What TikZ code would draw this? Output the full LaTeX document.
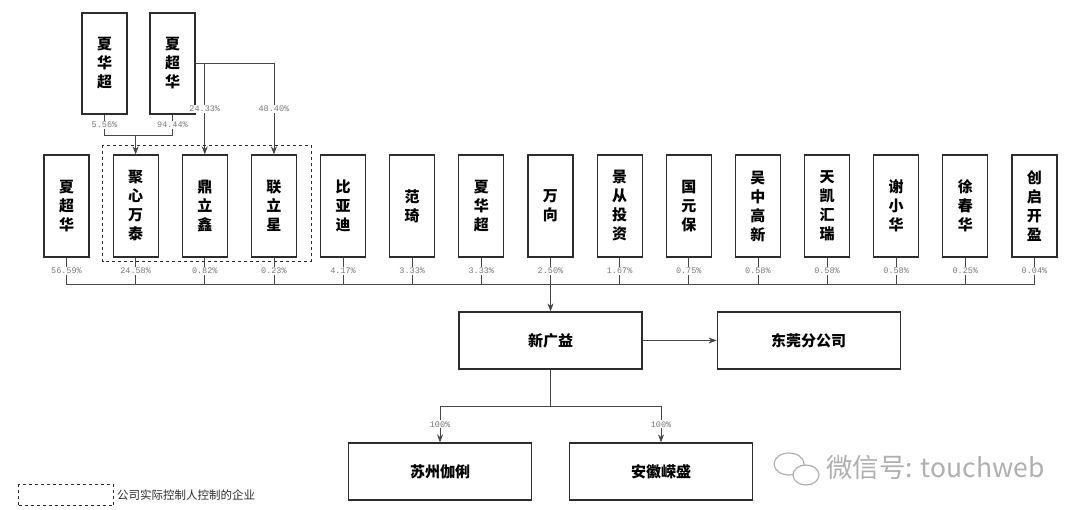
\documentclass[tikz,border=0pt]{standalone}
\usepackage{fontspec}
\usepackage{xcolor}
\usepackage{tikz}
\setmainfont{Liberation Serif}
\setmonofont{Liberation Mono}
\newfontfamily\cjk{Noto Sans CJK SC}
\definecolor{boxline}{RGB}{45, 45, 45}
\definecolor{linegray}{RGB}{70, 70, 70}
\definecolor{pctgray}{RGB}{120, 120, 120}
\definecolor{markgray}{RGB}{175, 175, 175}
\usetikzlibrary{arrows.meta, positioning}

\begin{document}
\begin{tikzpicture}[
        x=1pt, y=-1pt,
        every node/.style={inner sep=0pt},
        holder/.style={rectangle, draw=boxline, line width=1.2pt, minimum width=45pt, minimum height=102pt, align=center, font=\cjk\bfseries\fontsize{15}{19}\selectfont},
        firm/.style={rectangle, draw=boxline, line width=1.2pt, minimum width=183pt, minimum height=57pt, font=\cjk\bfseries\fontsize{15}{18}\selectfont},
        pct/.style={fill=white, inner sep=1pt, text=pctgray, font=\ttfamily\fontsize{8.5}{9}\selectfont},
        link/.style={draw=linegray, line width=0.7pt},
        arrow/.style={link, -{Stealth[length=8pt, width=6pt]}}
    ]
        \useasboundingbox (0,0) rectangle (1080,510);

        % Top holders
        \node[holder, minimum height=101pt] (xhcTop) at (104.5,63.5) {夏\\华\\超};
        \node[holder, minimum height=101pt] (xchTop) at (172.5,63.5) {夏\\超\\华};

        % Shareholders
        \foreach \name/\txt/\p [count=\i from 0] in {
            xiachaohua/{夏\\超\\华}/56.59, juxin/{聚\\心\\万\\泰}/24.58,
            dinglixin/{鼎\\立\\鑫}/0.82, lianlixing/{联\\立\\星}/0.23,
            byd/{比\\亚\\迪}/4.17, fanqi/{范\\琦}/3.33,
            xiahuachao/{夏\\华\\超}/3.33, wanxiang/{万\\向}/2.50,
            jingcong/{景\\从\\投\\资}/1.67, guoyuanbao/{国\\元\\保}/0.75,
            wuzhong/{吴\\中\\高\\新}/0.58, tiankai/{天\\凯\\汇\\瑞}/0.58,
            xiexiaohua/{谢\\小\\华}/0.58, xuchunhua/{徐\\春\\华}/0.25,
            chuangqi/{创\\启\\开\\盈}/0.04} {
            \node[holder] (\name) at ({66.5+69.14*\i},206) {\txt};
            \draw[link] (\name.south) -- node[pct] {\p\%} ++(0,27);
        }
        \draw[link] (xiachaohua.south) ++(0,27) coordinate (busL) -- (busL -| chuangqi.south);

        % Companies
        \node[firm] (xgy) at (550.5,340.5) {新广益};
        \node[firm, right=74pt of xgy] (dongguan) {东莞分公司};
        \node[firm] (suzhou) at (440,471.5) {苏州伽俐};
        \node[firm] (anhui) at (661,471.5) {安徽嵘盛};

        % Top relations
        \coordinate (topbus) at (0,135);
        \draw[link] (xhcTop.south) -- node[pct] {5.56\%} (xhcTop.south |- topbus) -- (xchTop.south |- topbus);
        \draw[link] (xchTop.south) -- node[pct] {94.44\%} (xchTop.south |- topbus);
        \draw[arrow] (juxin.north |- topbus) -- (juxin.north);
        \draw[link] (xchTop.east) -- (lianlixing.north |- xchTop.east);
        \draw[arrow] (dinglixin.north |- xchTop.east) -- node[pct] {24.33\%} (dinglixin.north);
        \draw[arrow] (lianlixing.north |- xchTop.east) -- node[pct] {48.40\%} (lianlixing.north);

        % Relationships
        \draw[arrow] (wanxiang.south |- busL) -- (xgy.north);
        \draw[arrow] (xgy.east) -- (dongguan.west);
        \coordinate (subbus) at (0,406);
        \draw[link] (xgy.south) -- (xgy.south |- subbus);
        \draw[link] (suzhou.north |- subbus) -- (anhui.north |- subbus);
        \draw[arrow] (suzhou.north |- subbus) -- node[pct] {100\%} (suzhou.north);
        \draw[arrow] (anhui.north |- subbus) -- node[pct] {100\%} (anhui.north);

        % Controlled group
        \draw[boxline, dashed, line width=1pt] ([xshift=-10pt, yshift=9pt]juxin.north west) rectangle ([xshift=14pt, yshift=-4pt]lianlixing.south east);

        % Legend
        \node[draw=boxline, dashed, line width=1pt, minimum width=95pt, minimum height=21pt] (legend) at (66,495.5) {};
        \node[anchor=west, font=\cjk\fontsize{11.5}{12}\selectfont, text=boxline] (legendtxt) at ([xshift=3pt]legend.east) {公司实际控制人控制的企业};

        % Watermark
        \draw[markgray, line width=1.2pt] (789,464) ellipse (15pt and 11pt);
        \draw[markgray, line width=1.2pt, fill=white] (806,475) ellipse (13pt and 10pt);
        \node[anchor=west, text=markgray, font=\cjk\fontsize{26.5}{29}\selectfont] (mark) at (826,467) {微信号: touchweb};
    \end{tikzpicture}
\end{document}
